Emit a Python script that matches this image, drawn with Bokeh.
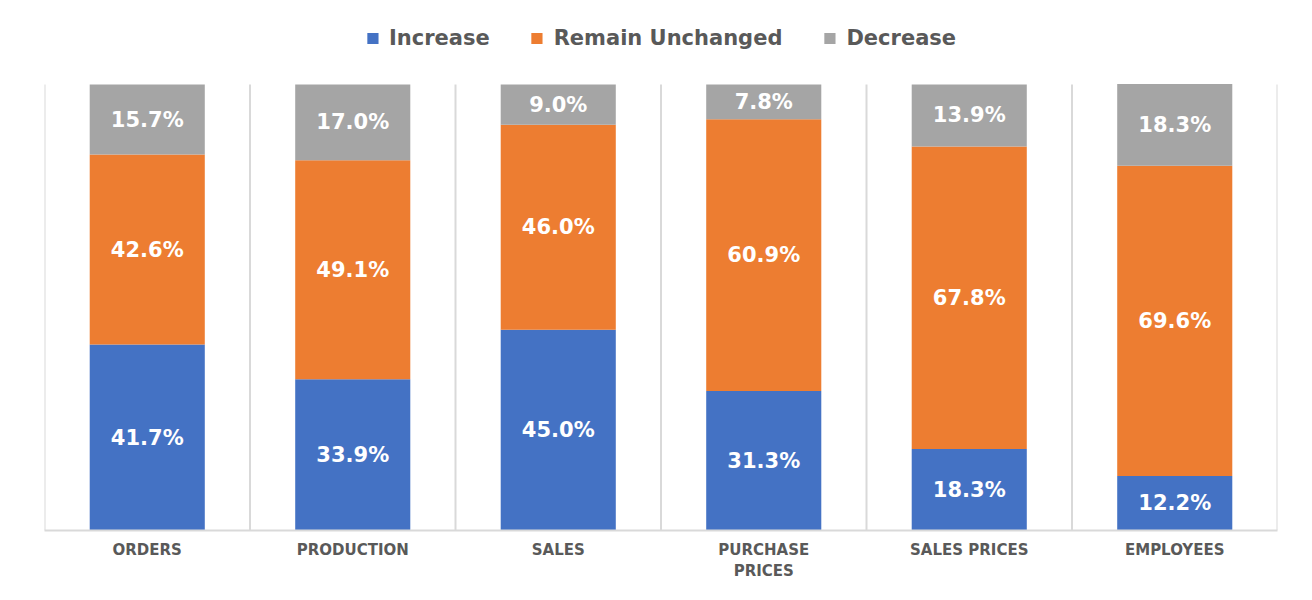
from bokeh.plotting import figure
from bokeh.models import ColumnDataSource, Legend, LegendItem, FactorRange
from bokeh.embed import file_html
from bokeh.resources import INLINE
from bokeh.core.properties import value

categories = ["ORDERS", "PRODUCTION", "SALES", "PURCHASE PRICES", "SALES PRICES", "EMPLOYEES"]
tick_labels = ["ORDERS", "PRODUCTION", "SALES", "PURCHASE\nPRICES", "SALES PRICES", "EMPLOYEES"]
increase = [41.7, 33.9, 45.0, 31.3, 18.3, 12.2]
unchanged = [42.6, 49.1, 46.0, 60.9, 67.8, 69.6]
decrease = [15.7, 17.0, 9.0, 7.8, 13.9, 18.3]
series_names = ["Increase", "Remain Unchanged", "Decrease"]
colors = ["#4472C4", "#ED7D31", "#A5A5A5"]

W, H = 1296, 584
FRAME_L, FRAME_T, FRAME_R, FRAME_B = 44, 14, 1277, 530
TOP100 = 84  # pixel row where 100% sits
y_end = 100.0 * (FRAME_B - FRAME_T) / (FRAME_B - TOP100)

src = ColumnDataSource(dict(cat=tick_labels, inc=increase, unc=unchanged, dec=decrease))

p = figure(x_range=FactorRange(*tick_labels), y_range=(0, y_end), width=W, height=H,
           output_backend="svg", toolbar_location=None,
           min_border_left=FRAME_L, min_border_right=W - FRAME_R,
           min_border_top=FRAME_T, min_border_bottom=H - FRAME_B)
p.outline_line_color = None
p.xgrid.grid_line_color = None
p.ygrid.grid_line_color = None
p.yaxis.visible = False
p.background_fill_color = "white"
p.border_fill_color = "white"

# vertical separators between categories (synthetic coordinates 0..6)
bounds = list(range(len(categories) + 1))
p.segment(x0=bounds, y0=[0] * len(bounds), x1=bounds, y1=[100] * len(bounds),
          line_color="#d9d9d9", line_width=2)

rs = p.vbar_stack(["inc", "unc", "dec"], x="cat", width=0.56, source=src,
                  fill_color=colors, line_color=None)

# labels
xs, ys, texts = [], [], []
for i, c in enumerate(tick_labels):
    base = 0.0
    for v in (increase[i], unchanged[i], decrease[i]):
        xs.append(c)
        ys.append(base + v / 2)
        texts.append(f"{v:.1f}%")
        base += v
lab_src = ColumnDataSource(dict(x=xs, y=ys, t=texts))
p.text(x="x", y="y", text="t", source=lab_src, text_align="center", text_baseline="middle",
       text_color="white", text_font=value("DejaVu Sans"), text_font_style="bold",
       text_font_size="21px")

ax = p.xaxis[0]
ax.axis_line_color = "#d9d9d9"
ax.axis_line_width = 2
ax.major_tick_line_color = None
ax.minor_tick_line_color = None
ax.major_tick_out = 0
ax.major_tick_in = 0
ax.minor_tick_out = 0
ax.major_label_text_font = "DejaVu Sans"
ax.major_label_text_font_style = "bold"
ax.major_label_text_font_size = "15px"
ax.major_label_text_color = "#595959"
ax.major_label_standoff = 10

items = [LegendItem(label=n, renderers=[r]) for n, r in zip(series_names, rs)]
legend = Legend(items=items, orientation="horizontal", location="top_center",
                glyph_width=14, glyph_height=14, label_standoff=10, spacing=40,
                label_height=24, label_text_baseline="middle",
                label_text_font="DejaVu Sans", label_text_font_style="bold",
                label_text_font_size="21px", label_text_color="#595959",
                border_line_color=None, background_fill_alpha=0, padding=0, margin=12)
p.add_layout(legend, "center")

open("out.html", "w").write(file_html(p, INLINE))
